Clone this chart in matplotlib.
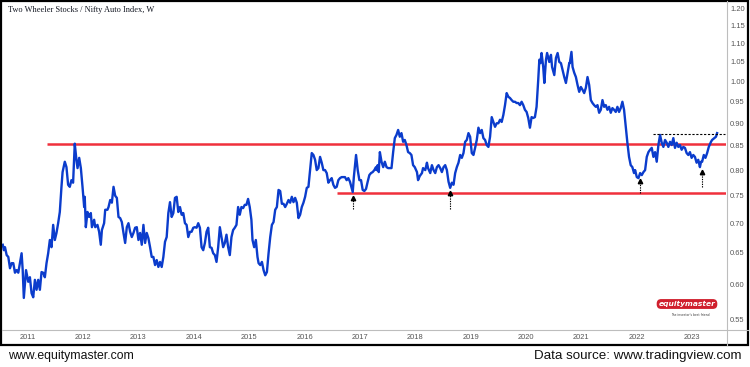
import numpy as np
import matplotlib
matplotlib.use("Agg")
import matplotlib.pyplot as plt
from matplotlib.ticker import FixedLocator, NullLocator, FuncFormatter
from matplotlib.lines import Line2D
from matplotlib.patches import Rectangle

# weekly close of the ratio (decimal year, ratio)
dates = [
    2010.55, 2010.57, 2010.59, 2010.62, 2010.65, 2010.68, 2010.71, 2010.74, 2010.77, 2010.80,
    2010.83, 2010.86, 2010.89, 2010.91, 2010.93, 2010.97, 2011.01, 2011.04, 2011.07, 2011.10,
    2011.13, 2011.16, 2011.19, 2011.22, 2011.25, 2011.28, 2011.31, 2011.34, 2011.37, 2011.40,
    2011.43, 2011.46, 2011.49, 2011.52, 2011.55, 2011.58, 2011.61, 2011.63, 2011.67, 2011.70,
    2011.73, 2011.76, 2011.79, 2011.82, 2011.85, 2011.88, 2011.90, 2011.93, 2011.96, 2011.99,
    2012.02, 2012.03, 2012.05, 2012.08, 2012.11, 2012.14, 2012.16, 2012.20, 2012.22, 2012.26,
    2012.29, 2012.32, 2012.34, 2012.38, 2012.40, 2012.44, 2012.46, 2012.49, 2012.52, 2012.55,
    2012.58, 2012.61, 2012.64, 2012.67, 2012.70, 2012.73, 2012.76, 2012.79, 2012.82, 2012.85,
    2012.88, 2012.91, 2012.94, 2012.97, 2013.00,
    2013.03, 2013.06, 2013.09, 2013.12, 2013.15, 2013.18, 2013.21, 2013.24, 2013.27, 2013.30,
    2013.33, 2013.36, 2013.39, 2013.42, 2013.45, 2013.48, 2013.51, 2013.54, 2013.57, 2013.60,
    2013.63, 2013.66, 2013.69, 2013.72, 2013.75, 2013.78, 2013.81, 2013.84, 2013.87, 2013.90,
    2013.93, 2013.96, 2013.99, 2014.02, 2014.05, 2014.08, 2014.11, 2014.14, 2014.17, 2014.20,
    2014.23, 2014.26, 2014.29, 2014.32, 2014.35, 2014.38, 2014.41, 2014.44, 2014.47, 2014.50,
    2014.53, 2014.56, 2014.59, 2014.62, 2014.65, 2014.68, 2014.71, 2014.74, 2014.77, 2014.80,
    2014.83, 2014.86, 2014.89, 2014.92, 2014.95, 2014.98, 2015.01, 2015.04, 2015.06, 2015.09,
    2015.12, 2015.15, 2015.17, 2015.20, 2015.23, 2015.26, 2015.29, 2015.32, 2015.35, 2015.38,
    2015.41, 2015.44, 2015.47, 2015.50, 2015.53, 2015.56, 2015.59, 2015.62, 2015.65, 2015.68,
    2015.71, 2015.74, 2015.77, 2015.80, 2015.83, 2015.86, 2015.89, 2015.92, 2015.95, 2015.98,
    2016.01, 2016.04, 2016.07, 2016.10, 2016.13, 2016.16, 2016.19, 2016.22, 2016.25, 2016.28,
    2016.31, 2016.34, 2016.37, 2016.40, 2016.43, 2016.46, 2016.49, 2016.52, 2016.55, 2016.58,
    2016.61, 2016.64, 2016.67, 2016.70, 2016.73, 2016.76, 2016.79, 2016.82, 2016.85, 2016.87,
    2016.89, 2016.93, 2016.96, 2016.99, 2017.02, 2017.05, 2017.08, 2017.11, 2017.14, 2017.17,
    2017.20, 2017.23, 2017.26, 2017.29, 2017.30, 2017.32, 2017.34, 2017.36, 2017.39, 2017.42,
    2017.45, 2017.48, 2017.51, 2017.54, 2017.57, 2017.60, 2017.63, 2017.66, 2017.69, 2017.72,
    2017.75, 2017.78, 2017.81, 2017.84, 2017.87, 2017.90, 2017.93, 2017.96, 2017.99, 2018.03,
    2018.05, 2018.08,
    2018.12, 2018.14, 2018.18, 2018.21, 2018.23, 2018.27, 2018.30, 2018.33, 2018.36, 2018.39,
    2018.42, 2018.45, 2018.48, 2018.51, 2018.54, 2018.57, 2018.60, 2018.63, 2018.66, 2018.69,
    2018.72, 2018.75, 2018.78, 2018.81, 2018.84, 2018.87, 2018.90, 2018.93, 2018.96, 2018.99,
    2019.02, 2019.05, 2019.08, 2019.11, 2019.14, 2019.17, 2019.20, 2019.23, 2019.26, 2019.29,
    2019.32, 2019.35, 2019.38, 2019.41, 2019.44, 2019.47, 2019.50, 2019.53, 2019.56, 2019.59,
    2019.62, 2019.65, 2019.68, 2019.71, 2019.74, 2019.77, 2019.80, 2019.83, 2019.86, 2019.89,
    2019.92, 2019.95, 2019.98, 2020.01, 2020.04, 2020.07, 2020.10, 2020.13, 2020.16, 2020.19,
    2020.22, 2020.24, 2020.26, 2020.28, 2020.31, 2020.33, 2020.36, 2020.38, 2020.42, 2020.45,
    2020.47, 2020.51, 2020.54, 2020.57, 2020.60, 2020.63, 2020.66, 2020.69, 2020.72, 2020.75,
    2020.78,
    2020.79, 2020.82, 2020.84, 2020.87, 2020.90, 2020.93, 2020.96, 2020.99, 2021.02, 2021.05,
    2021.08, 2021.11, 2021.14, 2021.17, 2021.20, 2021.23, 2021.26, 2021.29, 2021.32, 2021.35,
    2021.38, 2021.41, 2021.44, 2021.47, 2021.50, 2021.53, 2021.56, 2021.59, 2021.62, 2021.65,
    2021.68, 2021.71, 2021.74, 2021.77, 2021.80, 2021.83, 2021.86, 2021.89, 2021.92, 2021.95,
    2021.97, 2022.00, 2022.03, 2022.06, 2022.09, 2022.12, 2022.15, 2022.18, 2022.21, 2022.24,
    2022.27, 2022.30, 2022.33, 2022.36, 2022.39, 2022.42, 2022.45, 2022.48, 2022.51, 2022.54,
    2022.57, 2022.60, 2022.63, 2022.66, 2022.69, 2022.72, 2022.75, 2022.78, 2022.81, 2022.84,
    2022.87, 2022.90, 2022.93, 2022.96, 2022.99, 2023.02, 2023.05, 2023.08, 2023.11, 2023.14,
    2023.16, 2023.18, 2023.21, 2023.24, 2023.27, 2023.30, 2023.34, 2023.36, 2023.40, 2023.43,
    2023.45,
]
ratio = [
    0.663, 0.654, 0.659, 0.646, 0.643, 0.625, 0.633, 0.633, 0.618, 0.622,
    0.618, 0.633, 0.649, 0.622, 0.580, 0.622, 0.604, 0.611, 0.587, 0.581,
    0.607, 0.592, 0.607, 0.592, 0.619, 0.618, 0.611, 0.633, 0.649, 0.671,
    0.659, 0.697, 0.671, 0.683, 0.700, 0.720, 0.767, 0.796, 0.817, 0.806,
    0.771, 0.767, 0.780, 0.775, 0.855, 0.821, 0.804, 0.825, 0.804, 0.767,
    0.729, 0.748, 0.693, 0.720, 0.711, 0.718, 0.693, 0.706, 0.693, 0.697,
    0.685, 0.663, 0.688, 0.700, 0.724, 0.724, 0.729, 0.742, 0.737, 0.767,
    0.750, 0.746, 0.711, 0.709, 0.702, 0.683, 0.666, 0.693, 0.700, 0.685,
    0.676, 0.683, 0.692, 0.693, 0.671,
    0.683, 0.663, 0.697, 0.666, 0.683, 0.674, 0.659, 0.643, 0.643, 0.630,
    0.638, 0.627, 0.635, 0.627, 0.643, 0.668, 0.676, 0.718, 0.738, 0.711,
    0.718, 0.746, 0.748, 0.720, 0.729, 0.715, 0.718, 0.700, 0.697, 0.676,
    0.685, 0.685, 0.692, 0.693, 0.692, 0.700, 0.692, 0.659, 0.654, 0.666,
    0.685, 0.692, 0.659, 0.658, 0.649, 0.646, 0.635, 0.659, 0.693, 0.676,
    0.659, 0.666, 0.680, 0.659, 0.646, 0.676, 0.688, 0.692, 0.697, 0.729,
    0.715, 0.729, 0.727, 0.733, 0.733, 0.744, 0.729, 0.706, 0.671, 0.659,
    0.671, 0.643, 0.633, 0.630, 0.635, 0.622, 0.614, 0.619, 0.649, 0.676,
    0.697, 0.702, 0.724, 0.729, 0.761, 0.759, 0.735, 0.735, 0.729, 0.735,
    0.742, 0.737, 0.748, 0.738, 0.746, 0.737, 0.709, 0.715, 0.729, 0.737,
    0.748, 0.765, 0.767, 0.800, 0.835, 0.831, 0.821, 0.800, 0.804, 0.827,
    0.815, 0.800, 0.800, 0.794, 0.775, 0.780, 0.784, 0.771, 0.765, 0.767,
    0.780, 0.784, 0.786, 0.786, 0.786, 0.780, 0.784, 0.777, 0.765, 0.757,
    0.786, 0.831, 0.800, 0.780, 0.780, 0.761, 0.759, 0.763, 0.777, 0.790,
    0.794, 0.796, 0.800, 0.806, 0.800, 0.810, 0.796, 0.837, 0.817, 0.806,
    0.817, 0.806, 0.804, 0.804, 0.804, 0.837, 0.867, 0.874, 0.885, 0.870,
    0.878, 0.859, 0.863, 0.852, 0.837, 0.835, 0.831, 0.810, 0.806, 0.796,
    0.780, 0.788,
    0.794, 0.804, 0.800, 0.815, 0.804, 0.794, 0.810, 0.800, 0.794, 0.806,
    0.810, 0.804, 0.796, 0.806, 0.810, 0.800, 0.777, 0.765, 0.775, 0.771,
    0.794, 0.806, 0.815, 0.831, 0.825, 0.835, 0.859, 0.863, 0.878, 0.870,
    0.835, 0.831, 0.846, 0.863, 0.890, 0.878, 0.885, 0.867, 0.863, 0.852,
    0.848, 0.870, 0.914, 0.903, 0.892, 0.900, 0.900, 0.908, 0.903, 0.919,
    0.942, 0.971, 0.962, 0.959, 0.954, 0.950, 0.950, 0.947, 0.947, 0.942,
    0.950, 0.942, 0.931, 0.926, 0.912, 0.890, 0.914, 0.912, 0.914, 0.938,
    1.004, 1.056, 1.047, 1.074, 1.037, 0.996, 1.056, 1.074, 1.050, 1.069,
    1.037, 1.016, 1.061, 1.074, 1.050, 1.047, 1.029, 1.011, 0.996, 1.022,
    1.047,
    1.047, 1.077, 1.037, 1.022, 1.011, 0.991, 0.974, 0.986, 0.979, 0.971,
    0.984, 1.011, 0.991, 0.954, 0.947, 0.942, 0.938, 0.942, 0.924, 0.931,
    0.954, 0.938, 0.942, 0.931, 0.938, 0.924, 0.935, 0.931, 0.926, 0.938,
    0.926, 0.935, 0.950, 0.931, 0.892, 0.857, 0.827, 0.810, 0.806, 0.794,
    0.800, 0.786, 0.784, 0.794, 0.790, 0.796, 0.800, 0.827, 0.837, 0.842,
    0.846, 0.827, 0.837, 0.817, 0.852, 0.874, 0.857, 0.848, 0.863, 0.857,
    0.848, 0.859, 0.852, 0.867, 0.846, 0.857, 0.848, 0.852, 0.842, 0.848,
    0.846, 0.835, 0.831, 0.837, 0.825, 0.831, 0.827, 0.815, 0.821, 0.806,
    0.817, 0.817, 0.831, 0.825, 0.835, 0.848, 0.859, 0.863, 0.867, 0.870,
    0.878,
]

years = list(range(2011, 2024))
price_ticks = [0.55, 0.60, 0.65, 0.70, 0.75, 0.80, 0.85, 0.90, 0.95, 1.00, 1.05, 1.10, 1.15, 1.20]

# drawn levels: (start, value)
resistance = (2011.35, 0.855)
support = (2016.59, 0.756)
breakout = (2022.30, 2023.59, 0.876)
# dotted arrows under the lows: (date, bottom, top)
arrows = [(2016.87, 0.725, 0.750), (2018.63, 0.725, 0.760),
          (2022.05, 0.756, 0.782), (2023.17, 0.767, 0.800)]

W, H = 750, 367
fig = plt.figure(figsize=(W / 100, H / 100), dpi=100)
ax = fig.add_axes([2 / W, 1 - 329 / H, 724 / W, 327 / H])

ax.plot(dates, ratio, color="#0b3ccc", lw=1.7, solid_joinstyle="round", zorder=3)

x0, x1 = 2010.536, 2023.611
ax.hlines(resistance[1], resistance[0], x1, color="#f0303c", lw=1.8, zorder=2)
ax.hlines(support[1], support[0], x1, color="#f0303c", lw=1.8, zorder=2)
ax.hlines(breakout[2], breakout[0], breakout[1], color="black", lw=0.8,
          linestyles=(0, (2, 1.5)), zorder=4)
for d, lo, hi in arrows:
    ax.plot([d, d], [lo, hi - 0.006], color="black", lw=0.8, ls=(0, (1.2, 1)), zorder=4)
    ax.plot(d, hi - 0.004, marker="^", color="black", ms=3.2, zorder=4)

ax.set_yscale("log")
ax.set_ylim(0.5364, 1.221)
ax.set_xlim(x0, x1)
ax.yaxis.tick_right()
ax.yaxis.set_major_locator(FixedLocator(price_ticks))
ax.yaxis.set_minor_locator(NullLocator())
ax.yaxis.set_major_formatter(FuncFormatter(lambda v, p: f"{v:.2f}"))
ax.xaxis.set_major_locator(FixedLocator(years))
ax.xaxis.set_minor_locator(NullLocator())
ax.xaxis.set_major_formatter(FuncFormatter(lambda v, p: f"{int(round(v))}"))
ax.tick_params(axis="both", length=0, labelsize=5.4, labelcolor="#555555")
ax.tick_params(axis="y", pad=3)
ax.tick_params(axis="x", pad=3.5)
for lab in ax.get_xticklabels() + ax.get_yticklabels():
    lab.set_family("Liberation Sans")
for s in ax.spines.values():
    s.set_visible(False)

# frame, time axis and price axis separators
fig.add_artist(Rectangle((1 / W, 1 - 345 / H), 747 / W, 344 / H, transform=fig.transFigure,
                         fill=False, edgecolor="black", lw=1.6))
fig.add_artist(Line2D([2 / W, 748 / W], [1 - 329.5 / H] * 2, transform=fig.transFigure,
                      color="#bdbdbd", lw=0.8))
fig.add_artist(Line2D([726.5 / W] * 2, [1 - 345 / H, 1 - 1 / H], transform=fig.transFigure,
                      color="#bdbdbd", lw=0.8))

fig.text(8 / W, 1 - 10 / H, "Two Wheeler Stocks / Nifty Auto Index, W", family="Liberation Serif",
         fontsize=6, color="#131722", va="center", ha="left")

# equitymaster badge
fig.text(687 / W, 1 - 304 / H, "equitymaster", family="DejaVu Sans", fontsize=5.4, weight="bold",
         style="italic", color="white", ha="center", va="center",
         bbox=dict(boxstyle="round,pad=0.25,rounding_size=0.6", fc="#d0202e", ec="none"))
fig.text(690 / W, 1 - 315 / H, "The investor's best friend", family="DejaVu Sans", fontsize=2.2,
         color="#333333", ha="center", va="center")

fig.text(8 / W, 1 - 356 / H, "www.equitymaster.com", family="Liberation Sans", fontsize=8.8,
         color="#111111", ha="left", va="center")
fig.text(742 / W, 1 - 356 / H, "Data source: www.tradingview.com", family="Liberation Sans",
         fontsize=9.6, color="#111111", ha="right", va="center")

fig.savefig("out.png", dpi=100, facecolor="white")
